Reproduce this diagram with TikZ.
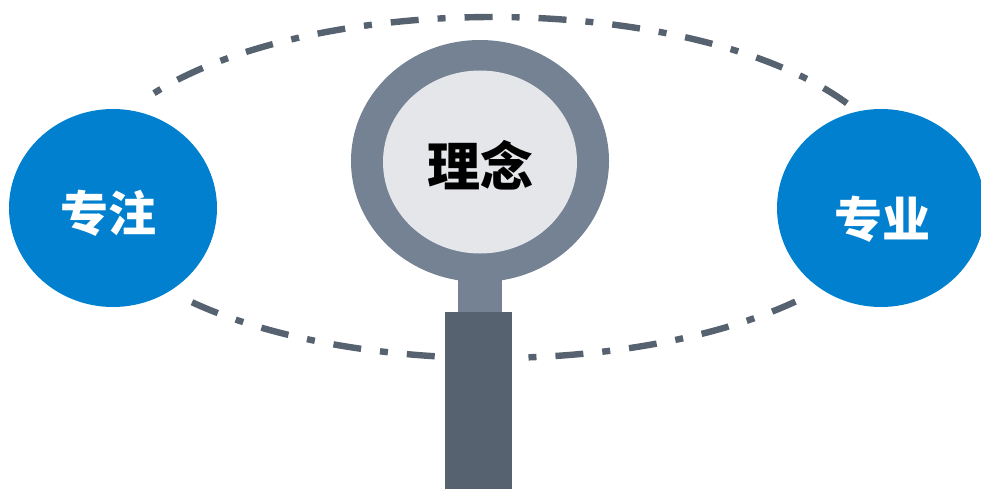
\documentclass[tikz,border=0pt]{standalone}
\usepackage{fontspec}
\usetikzlibrary{shapes.geometric}
\newfontfamily\cjk{Noto Sans CJK SC}[BoldFont={Noto Sans CJK SC Black}]
\definecolor{ringc}{HTML}{758294}
\definecolor{glassc}{HTML}{E4E6EA}
\definecolor{handlec}{HTML}{56626F}
\definecolor{bluec}{HTML}{0080CE}
\tikzset{
  x=1pt,y=-1pt,
  blob/.style={fill=bluec,draw=none,ellipse,inner sep=0pt,minimum width=208pt,minimum height=198pt},
  bloblabel/.style={text=white,inner sep=0pt,font=\cjk\bfseries\fontsize{48}{48}\selectfont},
  orbit/.style={draw=handlec,line width=6.4pt,smooth,samples=90,variable=\t},
  dashfirst/.style={dash pattern=on 28pt off 19pt on 8pt off 19pt},
  dotfirst/.style={dash pattern=on 8pt off 19pt on 28pt off 19pt},
}
\begin{document}
\begin{tikzpicture}
\useasboundingbox (0,0) rectangle (981,489);
\draw[orbit,dotfirst] plot[domain=213.6:330.5] ({493+407*cos(\t)},{187.5+170.5*sin(\t)});
\draw[orbit,dashfirst] plot[domain=137.7:98.2] ({493+407*cos(\t)},{187.5+170.5*sin(\t)});
\draw[orbit,dotfirst] plot[domain=85:42] ({493+407*cos(\t)},{187.5+170.5*sin(\t)});
\fill[ringc] (458,270) rectangle (502,315);
\node[fill=ringc,ellipse,minimum width=258pt,minimum height=242pt,inner sep=0pt] (ring) at (480,161) {};
\node[fill=glassc,ellipse,minimum width=194pt,minimum height=183pt,inner sep=0pt] (glass) at (480,162) {};
\node[inner sep=0pt,font=\cjk\bfseries\fontsize{53}{53}\selectfont] (t0) at (480,165) {理念};
\fill[handlec] (445,312) rectangle (512,489);
\node[blob] (a) at (113,208) {};
\node[blob] (b) at (881,208) {};
\node[bloblabel] (ta) at (108,213) {专注};
\node[bloblabel] (tb) at (882,219) {专业};
\end{tikzpicture}
\end{document}
